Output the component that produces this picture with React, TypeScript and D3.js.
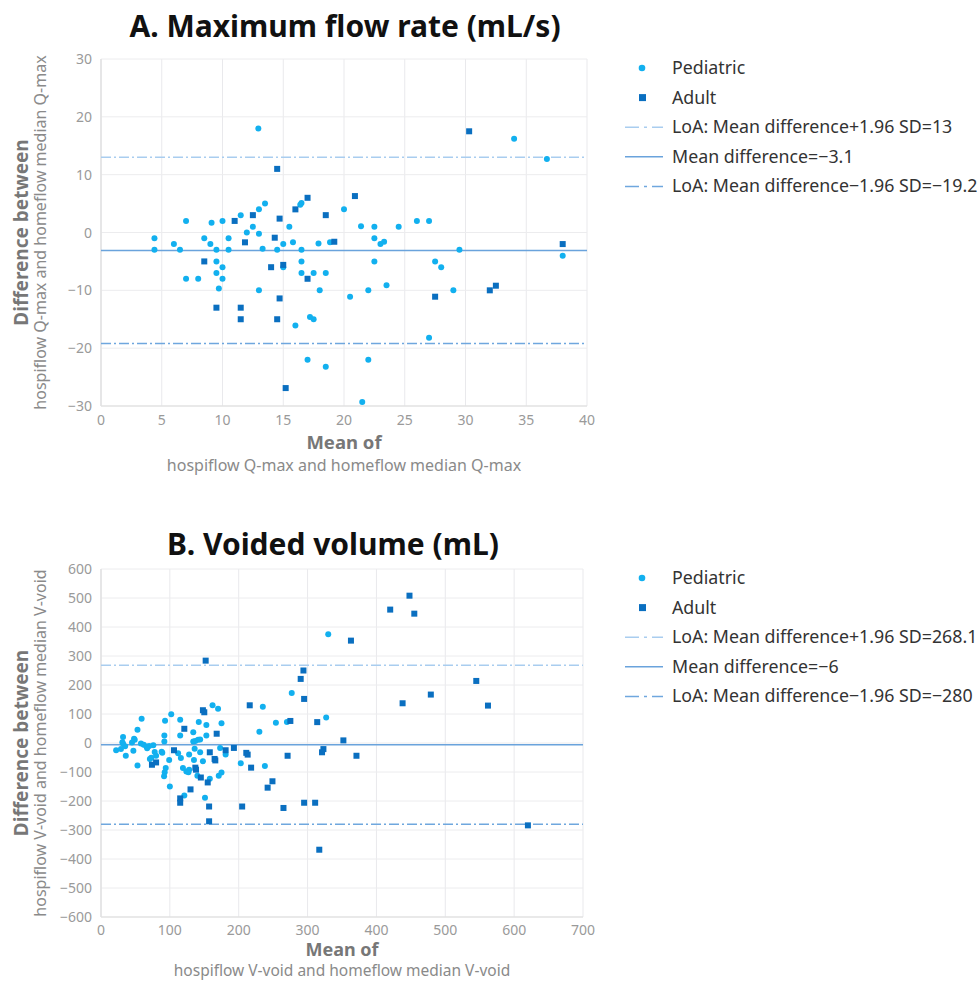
import React from "react";
import * as d3 from "d3";

// ---------- Data ----------
const qmaxPediatric: [number, number][] = [
  [4.4, -1], [4.4, -3], [6, -2], [6.5, -3], [7, 2], [7, -8], [8, -8], [8.5, -1], [9, -2], [9.1, 1.7],
  [9.5, -3], [9.5, -5], [9.5, -7], [9.7, -9.7], [10, 2], [10, -6], [10, -8], [10.5, -1], [10.5, -3],
  [11.5, 3], [12, 0], [12.5, 1], [13, 4], [13, -0.2], [13, -10], [13.5, 5], [13.3, -2.8], [12.95, 18],
  [14.5, -3], [15, -6], [15, -2], [15.5, 1], [15.8, -1.7], [16, -16.1], [16.4, 4.8], [16.5, 5.1],
  [16.5, -3], [16.5, -5], [16.5, -7], [17, -22], [17.2, -14.6], [17.5, -15], [17.5, -7], [17.9, -1.9],
  [18, -10], [18.5, -7], [18.5, -23.2], [18.85, -1.7], [20, 4], [20.5, -11.1], [21.4, 1.1], [21.5, -29.3],
  [22, -10], [22, -22], [22.5, 1], [22.5, -1], [22.5, -5], [23, -2], [23.3, -1.6], [23.5, -9.1],
  [24.5, 1], [26, 2], [27, 2], [27.5, -5], [28, -6], [27, -18.2], [29, -10], [29.5, -3], [34, 16.2],
  [36.7, 12.7], [38, -4],
];
const qmaxAdult: [number, number][] = [
  [14.5, 11], [8.5, -5], [9.5, -13], [11, 2], [11.5, -13], [11.5, -15], [11.85, -1.7], [12.5, 3],
  [14, -6], [14.3, -0.9], [14.7, -11.4], [14.5, -15], [14.7, 2.4], [15, -5.6], [16, 4], [17, 6],
  [17, -8], [18.5, 3], [19.2, -1.6], [20.9, 6.3], [15.2, -26.9], [27.5, -11.1], [32, -10], [32.5, -9.2],
  [38, -2], [30.3, 17.5],
];
const qmaxLines = { upper: 13, mean: -3.1, lower: -19.2 };
const qmaxLegend = [
  "LoA: Mean difference+1.96 SD=13",
  "Mean difference=\u22123.1",
  "LoA: Mean difference\u22121.96 SD=\u221219.2",
];

const vvoidPediatric: [number, number][] = [
  [59, 84], [53, 46], [32, 21], [48, 15], [45, 2], [49, 11], [32, -3], [35, -11], [31, 3], [22, -25],
  [29, -21], [36, -44], [47, -27], [58, -2], [62, -6], [66, -12], [70, -10], [76, -8], [67, -18],
  [78, -31], [71, -55], [73, -51], [53, -78], [80, -44], [88, -30], [89, -34], [93, 77], [92, 26],
  [92, 5], [102, 99], [115, 80], [115, 26], [99, -59], [94, -86], [92.5, -101], [91.6, -115],
  [100, -150], [112, -35], [116, -52], [121, -181], [119, -86], [124, -98], [128, -92], [127, -101],
  [128, -40], [134, 37], [134, 5], [137, 7], [141, 11], [144, 12], [136, -20], [144, -32], [135, -59],
  [140, -113], [142, 72], [148, -63], [151, -189], [153, 62], [153, 26], [158, -123], [162, 130],
  [170, 118], [171, -113], [175, -102], [175, 68], [173, -17], [181, -40], [203, -70], [230, 39],
  [235, 125], [238, -79], [254, 70], [270, 72], [277, 172], [327, 88], [330, 375],
];
const vvoidAdult: [number, number][] = [
  [152, 284], [294, 250], [290, 221], [295, 152], [216, 130], [148, 113], [150, 106], [121, 49],
  [168, 32], [106, -25], [158, -32], [181, -25], [193, -17], [211, -34], [213, -40], [165, -55],
  [166, -60], [74, -75], [80, -67], [137, -85], [138, -92], [145, -119], [155, -136], [218, -85],
  [249, -132], [242, -154], [130, -160], [115, -191], [115, -206], [157, -219], [157, -270],
  [205, -219], [265, -224], [295, -206], [311, -206], [275, 76], [271, -44], [314, 72], [448, 508],
  [420, 460], [455, 446], [363, 353], [545, 214], [479, 167], [438, 137], [562, 129], [352, 9],
  [321, -32], [323, -21], [371, -44], [317, -368], [620, -284],
];
const vvoidLines = { upper: 268.1, mean: -6, lower: -280 };
const vvoidLegend = [
  "LoA: Mean difference+1.96 SD=268.1",
  "Mean difference=\u22126",
  "LoA: Mean difference\u22121.96 SD=\u2212280",
];

const seriesNames = ["Pediatric", "Adult"];
const qmaxXTicks = [0, 5, 10, 15, 20, 25, 30, 35, 40];
const qmaxYTicks = [-30, -20, -10, 0, 10, 20, 30];
const vvoidXTicks = [0, 100, 200, 300, 400, 500, 600, 700];
const vvoidYTicks = [-600, -500, -400, -300, -200, -100, 0, 100, 200, 300, 400, 500, 600];

// ---------- Styles ----------
const FONT = "'Noto Sans', 'Open Sans', sans-serif";
const PED = "#12b0ef";
const ADU = "#0a6fc0";
const UPPER = "#a9cdef";
const MEAN = "#6aa3dc";
const LOWER = "#6fa7de";
const DASH = "10,3,2,3";
const fmt = d3.format("");

type PanelProps = {
  title: string;
  titleX: number;
  titleY: number;
  top: number;
  bottom: number;
  left: number;
  right: number;
  xDomain: [number, number];
  yDomain: [number, number];
  xTicks: number[];
  yTicks: number[];
  ped: [number, number][];
  adu: [number, number][];
  lines: { upper: number; mean: number; lower: number };
  legend: string[];
  legendTop: number;
  yLabel: string;
  xLabel: string;
  tickOff: number;
  xTitleOff1: number;
  xTitleOff2: number;
  xTitleSize1: number;
  xTitleSize2: number;
};

function Panel(p: PanelProps) {
  const x = d3.scaleLinear().domain(p.xDomain).range([p.left, p.right]);
  const y = d3.scaleLinear().domain(p.yDomain).range([p.bottom, p.top]);
  const cx = (p.left + p.right) / 2;
  const cy = (p.top + p.bottom) / 2;
  const lineDefs = [
    { v: p.lines.upper, c: UPPER, d: DASH },
    { v: p.lines.mean, c: MEAN, d: "" },
    { v: p.lines.lower, c: LOWER, d: DASH },
  ];
  const lgX = 625;
  const rowH = 29.6;
  return (
    <g>
      <text x={p.titleX} y={p.titleY} textAnchor="middle" fontFamily={FONT} fontWeight="bold" fontSize={30} fill="#111">
        {p.title}
      </text>
      {/* grid */}
      {p.xTicks.map((t) => (
        <line key={"gx" + t} x1={x(t)} x2={x(t)} y1={p.top} y2={p.bottom} stroke="#e9e9ec" strokeWidth={1} />
      ))}
      {p.yTicks.map((t) => (
        <line key={"gy" + t} x1={p.left} x2={p.right} y1={y(t)} y2={y(t)} stroke={t === p.yDomain[0] ? "#e2e2e2" : "#ececee"} strokeWidth={t === p.yDomain[0] ? 1.5 : 1} />
      ))}
      <line x1={p.left} x2={p.left} y1={p.top} y2={p.bottom} stroke="#e2e2e2" strokeWidth={1.5} />
      {/* tick labels */}
      {p.yTicks.map((t) => (
        <text key={"ty" + t} x={p.left - 9} y={y(t) + 5} textAnchor="end" fontFamily={FONT} fontSize={14} fill="#9a9a9a">
          {fmt(t)}
        </text>
      ))}
      {p.xTicks.map((t) => (
        <text key={"tx" + t} x={x(t)} y={p.bottom + p.tickOff} textAnchor="middle" fontFamily={FONT} fontSize={14} fill="#9a9a9a">
          {fmt(t)}
        </text>
      ))}
      {/* reference lines */}
      {lineDefs.map((l, i) => (
        <line key={"rl" + i} x1={p.left} x2={p.right} y1={y(l.v)} y2={y(l.v)} stroke={l.c} strokeWidth={1.5} strokeDasharray={l.d} />
      ))}
      {/* points */}
      {p.ped.map((d, i) => (
        <circle key={"p" + i} cx={x(d[0])} cy={y(d[1])} r={3} fill={PED} />
      ))}
      {p.adu.map((d, i) => (
        <rect key={"a" + i} x={x(d[0]) - 3} y={y(d[1]) - 3} width={6} height={6} fill={ADU} />
      ))}
      {/* axis titles */}
      <g transform={`translate(28,${cy}) rotate(-90)`}>
        <text x={0} y={0} textAnchor="middle" fontFamily={FONT} fontWeight="bold" fontSize={19} fill="#777">
          Difference between
        </text>
      </g>
      <g transform={`translate(46,${cy}) rotate(-90)`}>
        <text x={0} y={0} textAnchor="middle" fontFamily={FONT} fontSize={16} fill="#8a8a8a">
          {p.yLabel}
        </text>
      </g>
      <text x={cx} y={p.bottom + p.xTitleOff1} textAnchor="middle" fontFamily={FONT} fontWeight="bold" fontSize={p.xTitleSize1} fill="#777">
        Mean of
      </text>
      <text x={cx} y={p.bottom + p.xTitleOff2} textAnchor="middle" fontFamily={FONT} fontSize={p.xTitleSize2} fill="#8a8a8a">
        {p.xLabel}
      </text>
      {/* legend */}
      <circle cx={lgX + 17} cy={p.legendTop} r={3.3} fill={PED} />
      <text x={lgX + 47} y={p.legendTop + 6} fontFamily={FONT} fontSize={17.8} fill="#333">{seriesNames[0]}</text>
      <rect x={lgX + 14} y={p.legendTop + rowH - 3.5} width={7} height={7} fill={ADU} />
      <text x={lgX + 47} y={p.legendTop + rowH + 6} fontFamily={FONT} fontSize={17.8} fill="#333">{seriesNames[1]}</text>
      {lineDefs.map((l, i) => {
        const yy = p.legendTop + rowH * (i + 2);
        return (
          <g key={"lg" + i}>
            <line x1={lgX} x2={lgX + 38} y1={yy} y2={yy} stroke={l.c} strokeWidth={1.5} strokeDasharray={l.d ? "14,5,3,5" : ""} />
            <text x={lgX + 47} y={yy + 6} fontFamily={FONT} fontSize={17.8} fill="#333">{p.legend[i]}</text>
          </g>
        );
      })}
    </g>
  );
}

export default function App() {
  return (
    <svg width={980} height={981} style={{ position: "absolute", left: 0, top: 0, background: "#fff" }}>
      <rect width={980} height={981} fill="#fff" />
      <Panel
        title="A. Maximum flow rate (mL/s)"
        titleX={345}
        titleY={37}
        top={59}
        bottom={406}
        left={101}
        right={587}
        xDomain={[0, 40]}
        yDomain={[-30, 30]}
        xTicks={qmaxXTicks}
        yTicks={qmaxYTicks}
        ped={qmaxPediatric}
        adu={qmaxAdult}
        lines={qmaxLines}
        legend={qmaxLegend}
        legendTop={68}
        yLabel="hospiflow Q-max and homeflow median Q-max"
        xLabel="hospiflow Q-max and homeflow median Q-max"
        tickOff={19}
        xTitleOff1={43}
        xTitleOff2={65}
        xTitleSize1={18.5}
        xTitleSize2={16}
      />
      <Panel
        title="B. Voided volume (mL)"
        titleX={333}
        titleY={555}
        top={569}
        bottom={917}
        left={101}
        right={583}
        xDomain={[0, 700]}
        yDomain={[-600, 600]}
        xTicks={vvoidXTicks}
        yTicks={vvoidYTicks}
        ped={vvoidPediatric}
        adu={vvoidAdult}
        lines={vvoidLines}
        legend={vvoidLegend}
        legendTop={578}
        yLabel="hospiflow V-void and homeflow median V-void"
        xLabel="hospiflow V-void and homeflow median V-void"
        tickOff={18}
        xTitleOff1={39}
        xTitleOff2={59}
        xTitleSize1={18}
        xTitleSize2={15.5}
      />
    </svg>
  );
}
